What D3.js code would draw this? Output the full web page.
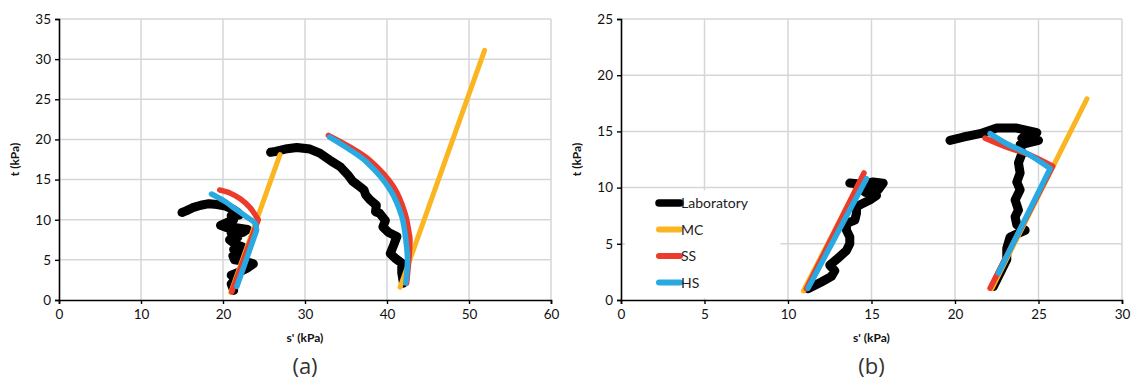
<!DOCTYPE html>
<html>
<head>
<meta charset="utf-8">
<script src="https://cdn.jsdelivr.net/npm/d3@7"></script>
<style>
  html, body { margin: 0; padding: 0; background: #fff; }
  svg { display: block; }
</style>
</head>
<body>
<svg id="chart" width="1137" height="383"></svg>
<script>
// ---------- DATA ----------
// Panel (a)
const xTicksA = [0, 10, 20, 30, 40, 50, 60];
const yTicksA = [0, 5, 10, 15, 20, 25, 30, 35];
const labA1 = [[21.3,1.2],[21.0,2.0],[21.5,2.6],[21.0,3.1],[22.0,3.5],[23.0,4.0],[23.7,4.5],[22.8,4.8],[21.4,5.0],[21.2,5.5],[22.0,5.8],[21.3,6.3],[22.4,6.6],[21.4,7.0],[20.8,7.5],[21.8,7.8],[21.0,8.3],[22.4,8.4],[23.0,8.8],[21.6,9.0],[20.5,9.0],[19.7,9.3],[20.6,9.7],[21.3,10.0],[21.0,10.5],[22.0,10.6],[21.8,10.9],[21.2,11.3],[20.3,11.7],[19.3,11.9],[18.3,12.0],[17.3,11.8],[16.3,11.5],[15.5,11.1],[15.0,10.9]];
const labA2 = [[42.0,2.1],[41.8,3.4],[41.8,4.6],[41.0,5.2],[40.4,5.8],[40.8,6.8],[41.2,7.9],[40.2,8.4],[39.5,9.1],[39.8,9.9],[39.1,10.8],[38.6,11.0],[38.7,11.8],[37.9,12.5],[37.4,13.1],[37.2,13.7],[36.7,14.1],[35.8,14.8],[35.3,15.5],[34.3,16.6],[33.2,17.3],[31.8,18.3],[30.6,18.8],[29.0,19.0],[27.6,18.8],[26.4,18.5],[25.8,18.4]];
const mcA1 = [[20.95,0.95],[26.95,18.1]];
const mcA2 = [[41.6,1.6],[51.9,31.1]];
const ssA1 = [[21.06,1.0],[24.3,10.0],[23.3,11.5],[22.1,12.6],[20.9,13.3],[19.6,13.7]];
const ssA2 = [[42.4,2.1],[42.8,7.5],[42.7,8.3],[42.2,10.8],[40.8,14.1],[37.9,17.4],[35.4,19.1],[32.85,20.5]];
const hsA1 = [[21.7,1.7],[24.1,8.7],[23.9,9.55],[22.8,10.4],[21.7,11.2],[20.2,12.3],[18.6,13.2]];
const hsA2 = [[42.3,2.1],[42.5,5.0],[42.3,7.5],[41.8,10.4],[40.4,13.7],[37.5,17.2],[35.2,18.9],[33.0,20.3]];

// Panel (b)
const xTicksB = [0, 5, 10, 15, 20, 25, 30];
const yTicksB = [0, 5, 10, 15, 20, 25];
const labB1 = [[11.2,1.0],[12.0,1.6],[12.6,2.1],[12.8,2.6],[12.5,3.1],[12.9,3.6],[13.5,4.4],[13.7,5.0],[13.7,5.6],[13.5,6.2],[13.5,6.8],[14.0,7.1],[14.1,7.7],[14.1,8.3],[14.5,8.6],[14.9,8.9],[15.3,9.3],[14.6,9.6],[15.4,9.8],[15.7,10.4],[15.1,10.5],[14.4,10.3],[13.7,10.4]];
const labB2 = [[22.3,1.2],[22.7,2.4],[23.1,3.6],[23.1,4.6],[23.3,5.6],[24.2,6.2],[23.7,6.7],[23.6,7.4],[23.8,8.0],[23.6,8.9],[23.9,9.8],[23.7,10.5],[23.9,11.3],[23.8,12.2],[24.0,13.0],[23.9,13.8],[25.0,14.2],[24.0,14.4],[24.9,14.9],[23.7,15.3],[22.5,15.3],[21.5,14.8],[20.5,14.5],[19.7,14.2]];
const mcB1 = [[10.92,0.8],[14.5,11.1]];
const mcB2 = [[22.2,1.0],[27.9,17.9]];
const ssB1 = [[11.1,1.0],[14.55,11.3]];
const ssB2 = [[22.1,1.05],[25.85,11.9],[24.5,12.9],[23.1,13.6],[21.8,14.4]];
const hsB1 = [[11.2,1.05],[14.7,10.8]];
const hsB2 = [[22.6,2.4],[25.7,11.7],[24.3,13.05],[23.1,13.9],[22.1,14.8]];

const legendNames = ["Laboratory", "MC", "SS", "HS"];
const seriesColors = {Laboratory: "#000000", MC: "#FBB520", SS: "#EC3A2C", HS: "#29A9E1"};
const seriesWidths = {Laboratory: 9, MC: 5, SS: 5.5, HS: 5.5};

// ---------- DRAW ----------
const svg = d3.select("#chart");
const font = "Lato, 'Open Sans', sans-serif";

function panel(opts) {
  const g = svg.append("g");
  const x = d3.scaleLinear().domain(opts.xDomain).range([opts.left, opts.right]);
  const y = d3.scaleLinear().domain(opts.yDomain).range([opts.bottom, opts.top]);

  // gridlines
  g.append("g").selectAll("line").data(opts.xTicks.filter(d => d !== opts.xDomain[0]))
    .join("line").attr("x1", d => x(d)).attr("x2", d => x(d))
    .attr("y1", opts.top).attr("y2", opts.bottom)
    .attr("stroke", "#d3d7da").attr("stroke-width", 1.5);
  g.append("g").selectAll("line").data(opts.yTicks.filter(d => d !== opts.yDomain[0]))
    .join("line").attr("x1", opts.left).attr("x2", opts.right)
    .attr("y1", d => y(d)).attr("y2", d => y(d))
    .attr("stroke", "#d3d7da").attr("stroke-width", 1.5);

  if (opts.legendBox) {
    const b = opts.legendBox;
    g.append("rect").attr("x", x(b.x0)).attr("y", y(b.y1))
      .attr("width", x(b.x1) - x(b.x0)).attr("height", y(b.y0) - y(b.y1))
      .attr("fill", "#fff");
  }

  // axes
  const xAxis = d3.axisBottom(x).tickValues(opts.xTicks).tickSize(4).tickPadding(5);
  const yAxis = d3.axisLeft(y).tickValues(opts.yTicks).tickSize(4).tickPadding(4);
  const gx = g.append("g").attr("transform", `translate(0,${opts.bottom})`).call(xAxis);
  const gy = g.append("g").attr("transform", `translate(${opts.left},0)`).call(yAxis);
  [gx, gy].forEach(a => {
    a.select(".domain").attr("stroke", "#000").attr("stroke-width", 1.6);
    a.selectAll(".tick line").attr("stroke", "#000").attr("stroke-width", 1.4);
    a.selectAll(".tick text").attr("font-family", font).attr("font-size", 13.5).attr("fill", "#111");
  });

  // axis titles
  g.append("text").attr("x", (opts.left + opts.right) / 2).attr("y", 342)
    .attr("text-anchor", "middle").attr("font-family", font).attr("font-weight", "bold")
    .attr("font-size", 12).attr("fill", "#111").text("s' (kPa)");
  g.append("text").attr("transform", `translate(${opts.left - 40},${(opts.top + opts.bottom) / 2}) rotate(-90)`)
    .attr("text-anchor", "middle").attr("font-family", font).attr("font-weight", "bold")
    .attr("font-size", 12).attr("fill", "#111").text("t (kPa)");
  g.append("text").attr("x", (opts.left + opts.right) / 2).attr("y", 374)
    .attr("text-anchor", "middle").attr("font-family", "'Open Sans', sans-serif")
    .attr("font-size", 22).attr("fill", "#333").text(opts.label);

  const line = d3.line().x(d => x(d[0])).y(d => y(d[1]));
  const lineArc = d3.line().x(d => x(d[0])).y(d => y(d[1])).curve(d3.curveCatmullRom.alpha(0.5));
  function stroke(name, dstr) {
    g.append("path").attr("d", dstr)
      .attr("fill", "none").attr("stroke", seriesColors[name])
      .attr("stroke-width", seriesWidths[name])
      .attr("stroke-linejoin", "round").attr("stroke-linecap", "round");
  }
  opts.series.forEach(s => {
    s.data.forEach((arr, k) => {
      if (s.name === "Laboratory" || s.name === "MC" || arr.length <= 2) {
        stroke(s.name, line(arr));
      } else if (s.corner && s.corner[k]) {
        // straight loading leg up to the corner, then the curved yield leg
        stroke(s.name, line(arr.slice(0, 2)) + lineArc(arr.slice(1)));
      } else {
        stroke(s.name, lineArc(arr));
      }
    });
  });

  if (opts.legend) {
    const L = opts.legend;
    legendNames.forEach((n, i) => {
      const yy = L.y + i * L.dy;
      g.append("line").attr("x1", L.x).attr("x2", L.x + 21).attr("y1", yy).attr("y2", yy)
        .attr("stroke", seriesColors[n]).attr("stroke-width", n === "Laboratory" ? 7.5 : 6)
        .attr("stroke-linecap", "round");
      g.append("text").attr("x", L.x + 22).attr("y", yy + 5)
        .attr("font-family", font).attr("font-size", 14).attr("fill", "#222").text(n);
    });
  }
  return {x, y};
}

panel({
  left: 59, right: 551, top: 19, bottom: 300,
  xDomain: [0, 60], yDomain: [0, 35], xTicks: xTicksA, yTicks: yTicksA, label: "(a)",
  series: [
    {name: "Laboratory", data: [labA1, labA2]},
    {name: "MC", data: [mcA1, mcA2]},
    {name: "SS", data: [ssA1, ssA2], corner: [true, false]},
    {name: "HS", data: [hsA1, hsA2], corner: [true, false]}
  ]
});

panel({
  left: 621, right: 1122, top: 19, bottom: 300,
  xDomain: [0, 30], yDomain: [0, 25], xTicks: xTicksB, yTicks: yTicksB, label: "(b)",
  legendBox: {x0: 0.25, x1: 9.55, y0: 0.15, y1: 9.75},
  legend: {x: 659, y: 203, dy: 26.5},
  series: [
    {name: "Laboratory", data: [labB1, labB2]},
    {name: "MC", data: [mcB1, mcB2]},
    {name: "SS", data: [ssB1, ssB2], corner: [false, true]},
    {name: "HS", data: [hsB1, hsB2], corner: [false, true]}
  ]
});
</script>
</body>
</html>
